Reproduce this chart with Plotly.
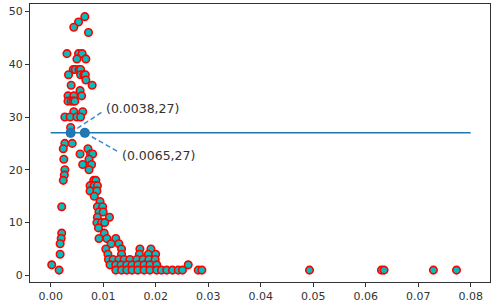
import plotly.graph_objects as go

# scatter data (x, y)
xs = [0.0065, 0.0053, 0.0044, 0.0072,
      0.0031, 0.0053, 0.0060,
      0.0050, 0.0067,
      0.0043, 0.0047, 0.0054, 0.0057,
      0.0034, 0.0057, 0.0063, 0.0066,
      0.0067,
      0.0039, 0.0079,
      0.0056,
      0.0033, 0.0044, 0.0059,
      0.0033, 0.0039, 0.0043, 0.0046,
      0.0044, 0.0061,
      0.0027, 0.0037, 0.0050, 0.0057,
      0.0038,
      0.0038, 0.0065,
      0.0027, 0.0041,
      0.0024, 0.0071,
      0.0056, 0.0076, 0.0080,
      0.0025, 0.0073,
      0.0061, 0.0078,
      0.0027, 0.0073,
      0.0026,
      0.0024, 0.0082, 0.0086,
      0.0075, 0.0083, 0.0089,
      0.0075, 0.0088,
      0.0083,
      0.0094,
      0.0021, 0.0089, 0.0099,
      0.0092, 0.0100,
      0.0089, 0.0112,
      0.0088, 0.0097, 0.0103,
      0.0091,
      0.0021, 0.0102,
      0.0020, 0.0092, 0.0107, 0.0124,
      0.0018, 0.0115, 0.0130,
      0.0105, 0.0135, 0.0170, 0.0191,
      0.0018, 0.0109, 0.0135, 0.0169, 0.0186, 0.0200,
      0.0110, 0.0119, 0.0130, 0.0140, 0.0151, 0.0164, 0.0176, 0.0187, 0.0199,
      0.0002, 0.0113, 0.0124, 0.0134, 0.0145, 0.0155, 0.0166, 0.0178, 0.0189, 0.0202, 0.0262,
      0.0016, 0.0124, 0.0135, 0.0145, 0.0155, 0.0166, 0.0178, 0.0189, 0.0202, 0.0211,
      0.0221, 0.0232, 0.0243, 0.0251, 0.0281, 0.0288,
      0.0493, 0.0630, 0.0635, 0.0729, 0.0773]
ys = [49, 48, 47, 46,
      42, 42, 42,
      41, 41,
      39, 39, 39, 39,
      38, 38, 38, 38,
      37,
      36, 36,
      35,
      34, 34, 34,
      33, 33, 33, 33,
      31, 31,
      30, 30, 30, 30,
      28,
      27, 27,
      25, 25,
      24, 24,
      23, 23, 23,
      22, 22,
      21, 21,
      20, 20,
      19,
      18, 18, 18,
      17, 17, 17,
      16, 16,
      15,
      14,
      13, 13, 13,
      12, 12,
      11, 11,
      10, 10, 10,
      9,
      8, 8,
      7, 7, 7, 7,
      6, 6, 6,
      5, 5, 5, 5,
      4, 4, 4, 4, 4, 4,
      3, 3, 3, 3, 3, 3, 3, 3, 3,
      2, 2, 2, 2, 2, 2, 2, 2, 2, 2, 2,
      1, 1, 1, 1, 1, 1, 1, 1, 1, 1,
      1, 1, 1, 1, 1, 1,
      1, 1, 1, 1, 1]

# horizontal threshold line
hline_y = 27
hline_x = [0.0, 0.08]

# intersection points and annotation offsets
cross_x = [0.0038, 0.0065]
cross_y = [27, 27]
cross_labels = ["(0.0038,27)", "(0.0065,27)"]
arrow_dx = [0.0062, 0.0064]
arrow_dy = [4.1, -3.6]
text_gap_x = [0.0002, 0.0003]
text_gap_y = [0.5, -0.7]

x_ticks = [0.0, 0.01, 0.02, 0.03, 0.04, 0.05, 0.06, 0.07, 0.08]
y_ticks = [0, 10, 20, 30, 40, 50]

C0 = "#1f77b4"

fig = go.Figure()
fig.add_trace(go.Scatter(
    x=xs, y=ys, mode="markers",
    marker=dict(size=7.5, color="#00bfbf", line=dict(color="#ff0000", width=1.6)),
    showlegend=False, hoverinfo="skip"))
fig.add_trace(go.Scatter(
    x=hline_x, y=[hline_y, hline_y], mode="lines",
    line=dict(color=C0, width=1.5), showlegend=False, hoverinfo="skip"))
for cx, cy, dx, dy in zip(cross_x, cross_y, arrow_dx, arrow_dy):
    fig.add_trace(go.Scatter(
        x=[cx, cx + dx], y=[cy, cy + dy], mode="lines",
        line=dict(color="#3b8bd0", width=1.5, dash="5px,3px"),
        showlegend=False, hoverinfo="skip"))
fig.add_trace(go.Scatter(
    x=cross_x, y=cross_y, mode="markers",
    marker=dict(size=10, color=C0), showlegend=False, hoverinfo="skip"))

for cx, cy, dx, dy, gx, gy, lab in zip(cross_x, cross_y, arrow_dx, arrow_dy,
                                        text_gap_x, text_gap_y, cross_labels):
    fig.add_annotation(
        x=cx + dx + gx, y=cy + dy + gy, text=lab, showarrow=False,
        xanchor="left", yanchor="middle",
        font=dict(family="DejaVu Sans", size=12.5, color="#333333"))

axis_common = dict(
    showline=True, linecolor="#333333", linewidth=1, mirror=True,
    ticks="outside", ticklen=4, tickwidth=1, tickcolor="#333333",
    showgrid=False, zeroline=False,
    tickfont=dict(family="DejaVu Sans", size=11, color="#333333"))

fig.update_xaxes(range=[-0.00394, 0.08368], tickvals=x_ticks,
                 ticktext=[f"{v:.2f}" for v in x_ticks], **axis_common)
fig.update_yaxes(range=[-1.25, 51.4], tickvals=y_ticks,
                 ticktext=[str(v) for v in y_ticks], **axis_common)

fig.update_layout(
    width=498, height=306,
    margin=dict(l=30, r=8, t=3, b=21),
    paper_bgcolor="white", plot_bgcolor="white",
    font=dict(family="DejaVu Sans"))

fig.write_html(
    "out.html",
    config={"displayModeBar": False},
    post_script="document.body.style.margin='0';document.body.style.padding='0';")
